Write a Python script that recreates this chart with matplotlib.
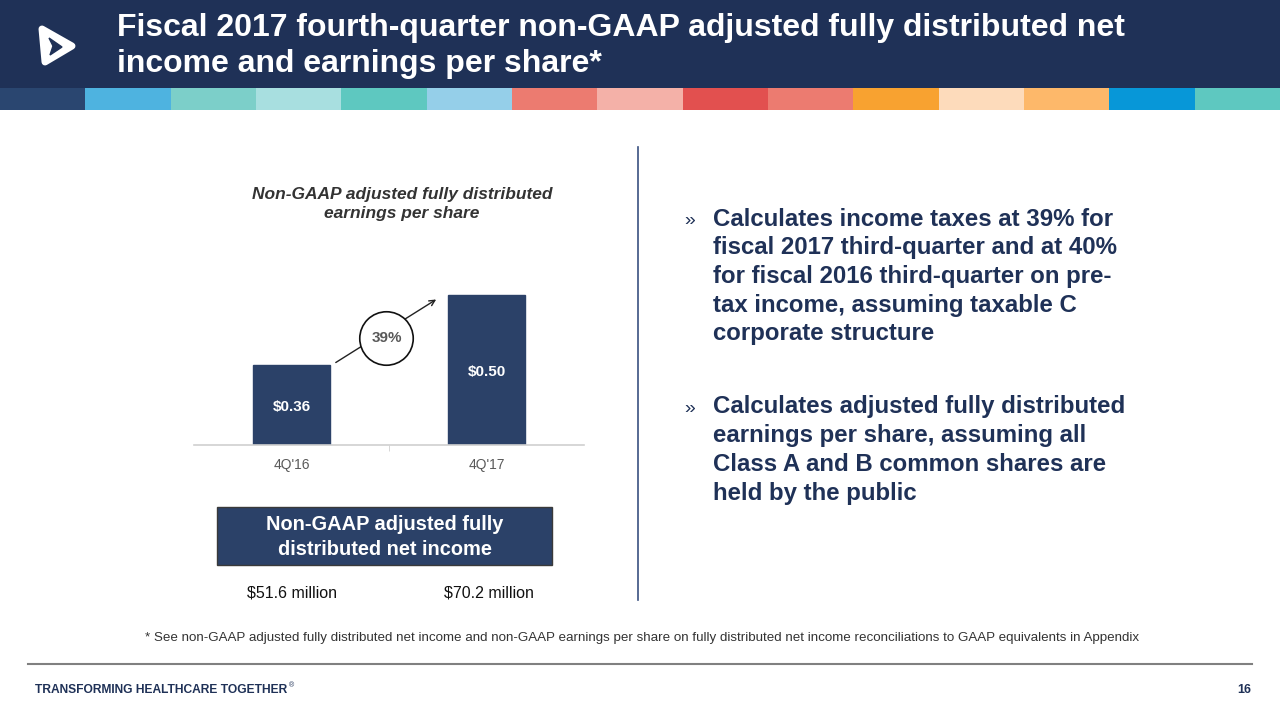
import matplotlib
matplotlib.use("Agg")
import matplotlib.pyplot as plt
from matplotlib.patches import Rectangle, Polygon
from matplotlib.lines import Line2D

plt.rcParams['font.family'] = ['Liberation Sans', 'DejaVu Sans']

# ---- data ----
categories = ["4Q'16", "4Q'17"]
eps_values = [0.36, 0.50]
eps_labels = ["$0.36", "$0.50"]
growth_label = "39%"
net_income_labels = ["$51.6 million", "$70.2 million"]
title = "Fiscal 2017 fourth-quarter non-GAAP adjusted fully distributed net\nincome and earnings per share*"
chart_title = "Non-GAAP adjusted fully distributed\nearnings per share"
box_title = "Non-GAAP adjusted fully\ndistributed net income"
bullets = [
    "Calculates income taxes at 39% for\nfiscal 2017 third-quarter and at 40%\nfor fiscal 2016 third-quarter on pre-\ntax income, assuming taxable C\ncorporate structure",
    "Calculates adjusted fully distributed\nearnings per share, assuming all\nClass A and B common shares are\nheld by the public",
]
footnote = "* See non-GAAP adjusted fully distributed net income and non-GAAP earnings per share on fully distributed net income reconciliations to GAAP equivalents in Appendix"
stripe_colors = ["#2a4670", "#4eb3e0", "#7ccfc9", "#a8dfe0", "#5ec8c0", "#95cfe9",
                 "#ec7b70", "#f4b1a8", "#e2504f", "#ec7b70", "#f8a230", "#fddbbb",
                 "#fdb86a", "#0797d8", "#5ec8c0"]

W, H = 1280, 720
NAVY = "#1f3157"
BAR = "#2b4168"

fig = plt.figure(figsize=(12.8, 7.2), dpi=100)
fig.patch.set_facecolor("white")

def fx(x):
    return x / W

def fy(y):
    return 1 - y / H

# header band
fig.patches.append(Rectangle((0, fy(88)), 1, 88 / H, transform=fig.transFigure,
                             facecolor=NAVY, edgecolor="none", zorder=0))
seg = W / len(stripe_colors)
for i, c in enumerate(stripe_colors):
    fig.patches.append(Rectangle((fx(i * seg), fy(110)), seg / W, 22 / H,
                                 transform=fig.transFigure, facecolor=c,
                                 edgecolor="none", zorder=0))

# logo
outer = Polygon([[fx(42), fy(29)], [fx(72), fy(46)], [fx(45), fy(62)]], closed=True,
                transform=fig.transFigure, facecolor="white", edgecolor="white",
                linewidth=5, joinstyle="round", zorder=1)
inner = Polygon([[fx(49), fy(38)], [fx(62), fy(47)], [fx(50), fy(55)], [fx(53), fy(46)]],
                closed=True, transform=fig.transFigure, facecolor=NAVY,
                edgecolor=NAVY, linewidth=1, zorder=2)
fig.patches.append(outer)
fig.patches.append(inner)

fig.text(fx(117), fy(46), title, color="white", fontsize=23, fontweight="bold",
         va="center", ha="left", linespacing=1.25)

# ---- bar chart ----
ax_left, ax_right, ax_top, ax_bot = 194, 584, 265, 445
ax = fig.add_axes([fx(ax_left), fy(ax_bot), (ax_right - ax_left) / W, (ax_bot - ax_top) / H])
x = list(range(len(categories)))
ax.bar(x, eps_values, width=0.395, color=BAR, edgecolor=BAR, zorder=2)
ax.set_xlim(-0.5, 1.5)
ax.set_ylim(0.2, 0.56)
ax.set_facecolor("none")
for s in ["top", "right", "left"]:
    ax.spines[s].set_visible(False)
ax.spines["bottom"].set_color("#d0d0d0")
ax.spines["bottom"].set_linewidth(1.2)
ax.set_yticks([])
ax.set_xticks(x)
ax.set_xticklabels(categories, color="#595959", fontsize=10)
ax.tick_params(axis="x", length=0, pad=9)
ax.set_xticks([0.5], minor=True)
ax.tick_params(axis="x", which="minor", length=4, color="#d0d0d0")
ax.text(0, 0.275, eps_labels[0], ha="center", va="center", color="white",
        fontsize=11, fontweight="bold", zorder=3)
ax.text(1, 0.347, eps_labels[1], ha="center", va="center", color="white",
        fontsize=11, fontweight="bold", zorder=3)

# growth arrow and circle
ax.annotate("", xy=(0.754, 0.494), xytext=(0.215, 0.362),
            arrowprops=dict(arrowstyle="->", color="#222222", lw=1.0), zorder=3)
ax.plot([0.487], [0.414], marker="o", markersize=38.5, markerfacecolor="white",
        markeredgecolor="#111111", markeredgewidth=1.2, zorder=4, clip_on=False)
ax.text(0.487, 0.414, growth_label, ha="center", va="center", color="#595959",
        fontsize=11, fontweight="bold", zorder=5)

fig.text(fx(402), fy(204), chart_title, ha="center", va="center", color="#333333",
         fontsize=12.5, fontweight="bold", fontstyle="italic", linespacing=1.4)

# net income box
fig.patches.append(Rectangle((fx(217), fy(565)), (552 - 217) / W, (565 - 507) / H,
                             transform=fig.transFigure, facecolor=BAR,
                             edgecolor="#3a3a3a", linewidth=1.0, zorder=1))
fig.text(fx(384.5), fy(537), box_title, ha="center", va="center", color="white",
         fontsize=14.4, fontweight="bold", linespacing=1.35, zorder=2)
for xc, lab in zip([292, 489], net_income_labels):
    fig.text(fx(xc), fy(593), lab, ha="center", va="center", color="#111111",
             fontsize=11.5)

# divider
fig.lines.append(Line2D([fx(638), fx(638)], [fy(147), fy(600)], transform=fig.transFigure,
                        color="#3a5080", linewidth=1.2))

# bullets (each line drawn on its own baseline)
LINE_STEP = 28.7
for ybase, text in zip([225.5, 413.5], bullets):
    fig.text(fx(684), fy(ybase - 1), "»", ha="left", va="baseline", color=NAVY,
             fontsize=14)
    for i, line in enumerate(text.split("\n")):
        fig.text(fx(713), fy(ybase + i * LINE_STEP), line, ha="left", va="baseline",
                 color=NAVY, fontsize=17.3, fontweight="bold")

# footnote
fig.text(fx(642), fy(638), footnote, ha="center", va="center", color="#333333", fontsize=9.65)
fig.lines.append(Line2D([fx(28), fx(1252)], [fy(664), fy(664)], transform=fig.transFigure,
                        color="#808080", linewidth=1.5))
fig.text(fx(35), fy(690), "TRANSFORMING HEALTHCARE TOGETHER", ha="left", va="center",
         color=NAVY, fontsize=8.65, fontweight="bold")
fig.text(fx(289), fy(686), "®", ha="left", va="center", color=NAVY, fontsize=5)
fig.text(fx(1251), fy(690), "16", ha="right", va="center", color=NAVY,
         fontsize=9, fontweight="bold")

fig.savefig("out.png", dpi=100)
